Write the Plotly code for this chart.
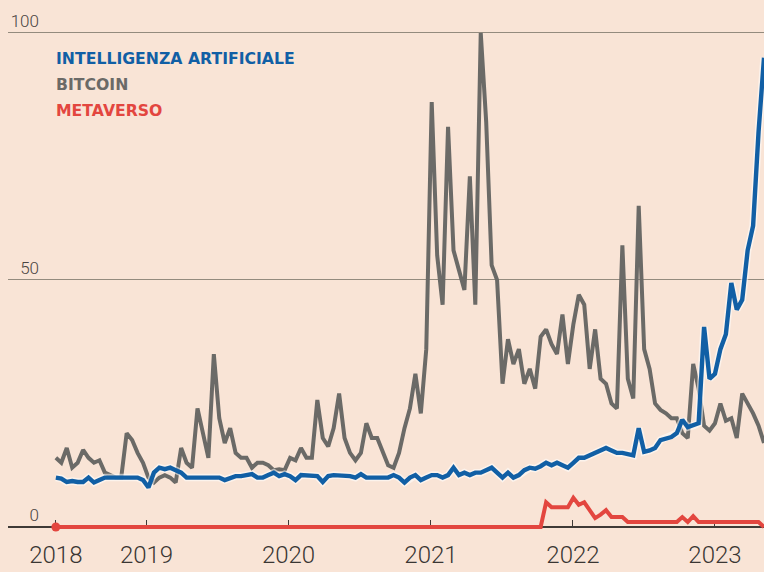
import pandas as pd
import plotly.graph_objects as go

# Google Trends interest (0-100), fortnightly samples from mid-May 2018
weeks = pd.date_range("2018-05-13", periods=131, freq="14D")

bitcoin = [
    14, 13, 16, 12, 13, 15.6, 14, 13, 13.5, 11,
    10.5, 10, 10, 19, 17.6, 15, 13, 10, 9, 10,
    10.5, 10, 9, 16, 13, 12, 24, 19, 14, 35,
    22, 17, 20, 15, 14, 14, 12, 13, 13, 12.5,
    11.5, 11.7, 11.5, 14, 13.5, 16, 14, 14, 25.7, 18,
    16.3, 20, 27, 18, 15, 13.5, 15, 21, 18, 18,
    15.5, 12.5, 12, 15, 20, 24, 31, 23, 36, 86,
    55, 45, 81, 56, 52, 48, 71, 45, 100, 82,
    53, 50, 29, 38, 33, 36, 29, 32, 28, 38.5,
    40, 37, 35, 43, 33, 41, 47, 45, 32, 40,
    30, 29, 25, 24, 57, 30, 26, 65, 36, 32,
    25, 23.7, 23, 22, 22, 19, 18, 33, 28, 20.5,
    19.5, 21, 25, 21.5, 22, 18, 27, 25, 23, 20.5,
    17,
]

intelligenza_artificiale = [
    10, 9.8, 9.1, 9.3, 9.1, 9.1, 10, 9, 9.5, 10,
    10, 10, 10, 10, 10, 10, 9.5, 8, 11, 12,
    11.7, 12, 11.5, 11, 10, 10, 10, 10, 10, 10,
    10, 9.5, 10, 10.3, 10.3, 10.5, 10.7, 10, 10, 10.5,
    11, 10.3, 10.7, 10.3, 9.5, 10.5, 10.5, 10.5, 10.3, 9.1,
    10.3, 10.5, 10.5, 10.5, 10.3, 10, 10.7, 10, 10, 10,
    10, 10, 10.5, 10, 9, 10, 10.5, 9.5, 10, 10.5,
    10.5, 10, 10.5, 12, 10.5, 11, 10.5, 11, 11, 11.5,
    12, 11, 10, 11, 10, 10.5, 11.5, 12, 11.8, 12.3,
    13, 12.5, 13, 12.5, 12, 13, 14, 14, 14.5, 15,
    15.5, 16, 15.5, 15, 15, 14.8, 14.5, 20, 15.2, 15.5,
    16, 17.6, 18, 18.2, 19, 21.7, 20.2, 20.5, 21, 40.5,
    30, 31, 36, 39, 49.4, 44, 46, 56, 61, 80,
    95,
]

metaverso = [
    0, 0, 0, 0, 0, 0, 0, 0, 0, 0,
    0, 0, 0, 0, 0, 0, 0, 0, 0, 0,
    0, 0, 0, 0, 0, 0, 0, 0, 0, 0,
    0, 0, 0, 0, 0, 0, 0, 0, 0, 0,
    0, 0, 0, 0, 0, 0, 0, 0, 0, 0,
    0, 0, 0, 0, 0, 0, 0, 0, 0, 0,
    0, 0, 0, 0, 0, 0, 0, 0, 0, 0,
    0, 0, 0, 0, 0, 0, 0, 0, 0, 0,
    0, 0, 0, 0, 0, 0, 0, 0, 0, 0,
    5, 4, 4, 4, 4, 5.9, 4.5, 5, 3.5, 1.8,
    2.5, 3.4, 2, 2, 2, 1, 1, 1, 1, 1,
    1, 1, 1, 1, 1, 2, 1, 2.2, 1, 1,
    1, 1, 1, 1, 1, 1, 1, 1, 1, 1,
    0,
]

series_names = ["INTELLIGENZA ARTIFICIALE", "BITCOIN", "METAVERSO"]
tick_dates = ["2018-05-13", "2019-01-01", "2020-01-01", "2021-01-01",
              "2022-01-01", "2023-01-01"]
tick_labels = ["2018", "2019", "2020", "2021", "2022", "2023"]
y_ticks = [0, 50, 100]

BG = "#f9e4d6"
BLUE = "#115fa5"
GREY = "#6b6a67"
RED = "#e3463f"
AXIS = "#3f3a36"
GRID = "#948b7e"

Y_RANGE = [-3.04, 103.03]
zero_pos = (0 - Y_RANGE[0]) / (Y_RANGE[1] - Y_RANGE[0])

fig = go.Figure()
fig.add_trace(go.Scatter(x=weeks, y=bitcoin, mode="lines",
                         line=dict(color=GREY, width=4), hoverinfo="skip"))
# light halo under the AI line
fig.add_trace(go.Scatter(x=weeks, y=intelligenza_artificiale, mode="lines",
                         line=dict(color="rgba(255,255,255,0.55)", width=7.5),
                         hoverinfo="skip"))
fig.add_trace(go.Scatter(x=weeks, y=intelligenza_artificiale, mode="lines",
                         line=dict(color=BLUE, width=4.4), hoverinfo="skip"))
fig.add_trace(go.Scatter(x=weeks, y=metaverso, mode="lines",
                         line=dict(color=RED, width=4), hoverinfo="skip"))
fig.add_trace(go.Scatter(x=weeks[:1], y=metaverso[:1], mode="markers",
                         marker=dict(color=RED, size=9), cliponaxis=False,
                         hoverinfo="skip"))

# coloured text legend
legend_colors = [BLUE, GREY, RED]
for k, (name, col) in enumerate(zip(series_names, legend_colors)):
    fig.add_annotation(
        text=name, xref="paper", yref="paper",
        x=0.061, y=0.9218 - k * 0.0496,
        xanchor="left", yanchor="middle", showarrow=False,
        font=dict(family="DejaVu Sans", size=15.7, color=col, weight=700),
    )

fig.update_layout(
    width=764, height=572,
    margin=dict(l=8, r=0, t=18, b=30),
    paper_bgcolor=BG, plot_bgcolor=BG,
    showlegend=False,
    xaxis=dict(
        type="date", range=["2018-01-10", "2023-05-07"],
        anchor="free", position=zero_pos,
        tickvals=tick_dates, ticktext=tick_labels,
        ticks="inside", ticklen=6, tickwidth=1, tickcolor=AXIS,
        showline=True, linecolor=AXIS, linewidth=1.5,
        showgrid=False, zeroline=False,
        tickfont=dict(family="Roboto", size=24, color="#3a3633", weight=300),
        ticklabelstandoff=6,
        layer="below traces",
    ),
    yaxis=dict(
        range=Y_RANGE, tickvals=y_ticks,
        anchor="free", position=0.041,
        showgrid=True, gridcolor=GRID, gridwidth=1,
        zeroline=False, showline=False, ticks="",
        ticklabelposition="outside top",
        tickfont=dict(family="Roboto", size=17, color="#4a4542", weight=300),
        layer="below traces",
    ),
)

fig.write_html("out.html")
